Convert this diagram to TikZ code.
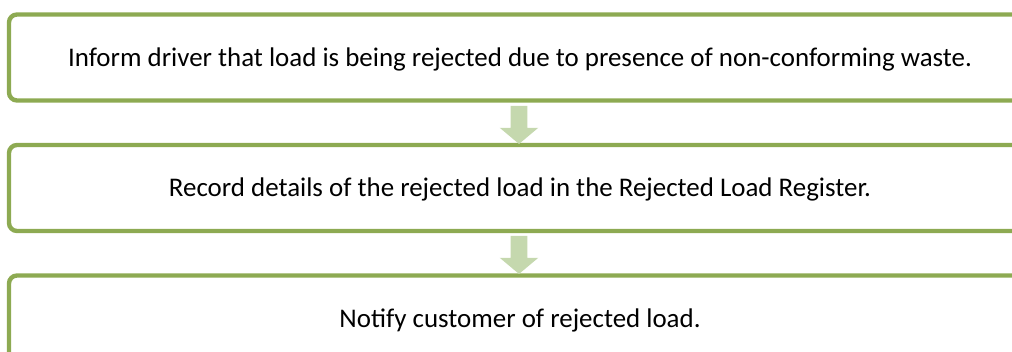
\documentclass[tikz,border=0pt]{standalone}
\usepackage{fontspec}
\setmainfont{Carlito}
\usepackage{tikz}
\usetikzlibrary{shapes, arrows, positioning}
\definecolor{boxgreen}{HTML}{8DAA52}
\definecolor{arrowgreen}{HTML}{C5D8AE}

\begin{document}
\begin{tikzpicture}[x=0.75pt,y=-0.75pt]
        \clip (0,0) rectangle (1012,352);
        \begin{scope}[every node/.style={draw=boxgreen,line width=3.3pt,rounded corners=6pt,
            minimum width=766.5pt,minimum height=64.5pt,inner sep=0pt,
            text height=13pt,text depth=0pt,font=\fontsize{20.2pt}{24pt}\selectfont}]
          \node (inform) at (520,57.5) {Inform driver that load is being rejected due to presence of non-conforming waste.};
          \node (record) at (520,188) {Record details of the rejected load in the Rejected Load Register.};
          \node (notify) at (520,318.5) {Notify customer of rejected load.};
        \end{scope}
        \begin{scope}[every node/.style={single arrow,fill=arrowgreen,rotate=-90,
            minimum width=24.75pt,minimum height=28.5pt,inner sep=6pt,
            single arrow head extend=8.25pt,single arrow tip angle=100,single arrow head indent=0pt}]
          \node (down1) at (519,121.5) {};
          \node (down2) at (519,251.5) {};
        \end{scope}
      \end{tikzpicture}
\end{document}
